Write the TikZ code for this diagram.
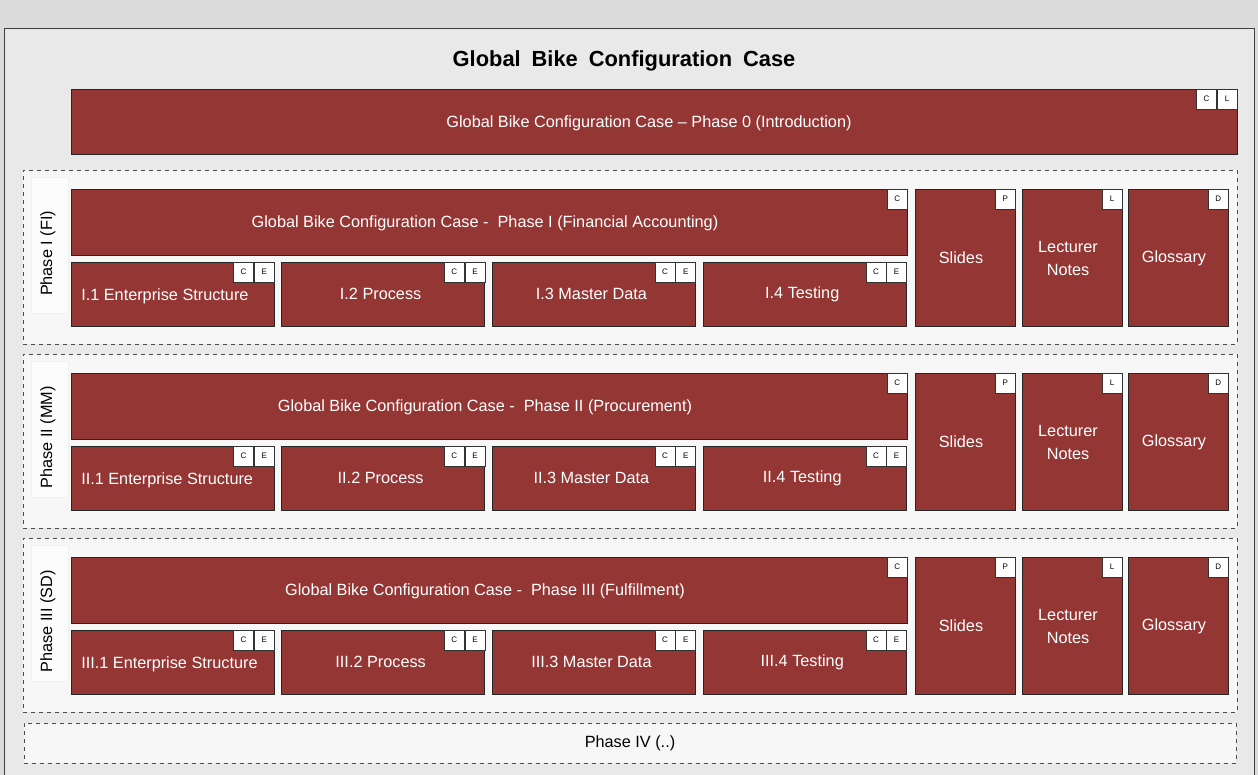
\documentclass[tikz,border=0pt]{standalone}
\usepackage{fontspec}
\setmainfont{Liberation Sans}
\usetikzlibrary{positioning}

\definecolor{boxred}{HTML}{943634}
\definecolor{pagegray}{HTML}{DBDBDB}
\definecolor{framegray}{HTML}{E9E9E9}
\definecolor{phasegray}{HTML}{F7F7F7}

\newcommand{\boxfont}{\fontsize{12.2}{17.2}\selectfont}

\tikzset{
  wh/.style 2 args={minimum width={#1*0.75pt}, minimum height={#2*0.75pt}},
  redbox/.style={draw=black!85, fill=boxred, text=white, line width=0.75pt,
    inner sep=0pt, font=\boxfont, align=center},
  boxtext/.style={text=white, font=\boxfont, inner sep=0pt, align=center},
  badge/.style={draw=black!80, fill=white, line width=0.5pt, inner sep=0pt,
    minimum width=15pt, minimum height=15.5pt, anchor=north east,
    font=\fontsize{6}{6}\selectfont},
  phasebox/.style={draw=black!70, dashed, fill=phasegray, line width=0.6pt, inner sep=0pt},
  phasetag/.style={draw=black!6, fill=white!60!phasegray, line width=0.4pt, inner sep=0pt},
}

\begin{document}
\begin{tikzpicture}[x=0.75pt, y=-0.75pt]
\clip (0,0) rectangle (1258,775);
\fill[pagegray] (0,0) rectangle (1258,775);
\draw[fill=framegray, draw=black!75, line width=0.75pt] (4,28) rectangle (1254,800);

\node[font=\bfseries\fontsize{16.4}{18}\selectfont] (title) at (624,61)
  {\spaceskip=0.5em\relax Global Bike Configuration Case};

% phase 0
\node[redbox, wh={1166}{65}] (intro) at (654,121.5) {};
\node[boxtext] (introtext) at (649,123) {Global Bike Configuration Case -- Phase 0 (Introduction)};
\node[badge] (introL) at (intro.north east) {L};
\node[badge] (introC) at (introL.north west) {C};

% phases I - III
\foreach \k/\rom/\mod/\topic in {0/I/FI/Financial Accounting, 1/II/MM/Procurement, 2/III/SD/Fulfillment}{
  \pgfmathsetmacro\o{184*\k}
  \node[phasebox, wh={1214}{174}] (phase\rom) at (630,{257+\o}) {};
  \node[phasetag, wh={37}{136}] (tag\rom) at (49.5,{245+\o}) {};
  \node[rotate=90, font=\boxfont] (tagtext\rom) at (48,{253.5+\o}) {Phase \rom\ (\mod)};
  \node[redbox, wh={836}{66}] (main\rom) at (489,{222+\o}) {};
  \node[boxtext] (maintext\rom) at (485,{223.5+\o}) {Global Bike Configuration Case -\ \ Phase \rom\ (\topic)};
  \node[badge] (mainC\rom) at (main\rom.north east) {C};
  % sub steps
  \foreach \i in {1,...,4}{
    \pgfmathsetmacro\cx{172.5+210.8*(\i-1)}
    \node[redbox, wh={203}{64}] (sub\rom\i) at (\cx,{294+\o}) {};
    \node[badge] (subE\rom\i) at (sub\rom\i.north east) {E};
    \node[badge] (subC\rom\i) at (subE\rom\i.north west) {C};
  }
  \node[boxtext, anchor=west] (subtext\rom1) at (81,{296+\o}) {\rom.1 Enterprise Structure};
  \node[boxtext] (subtext\rom2) at ([xshift=-2pt]sub\rom2) {\rom.2 Process};
  \node[boxtext] (subtext\rom3) at ([xshift=-2pt]sub\rom3) {\rom.3 Master Data};
  \node[boxtext] (subtext\rom4) at ([xshift=-2pt]sub\rom4) {\rom.4 Testing};
  % material
  \node[redbox, wh={100}{137}] (slides\rom) at (965,{257.5+\o}) {};
  \node[boxtext] (slidestext\rom) at ([xshift=-3pt, yshift=-0.5pt]slides\rom) {Slides};
  \node[badge] (slidesP\rom) at (slides\rom.north east) {P};
  \node[redbox, wh={100}{137}] (notes\rom) at (1072,{257.5+\o}) {};
  \node[boxtext] (notestext\rom) at ([xshift=-3pt, yshift=-0.5pt]notes\rom) {Lecturer\\Notes};
  \node[badge] (notesL\rom) at (notes\rom.north east) {L};
  \node[redbox, wh={100}{137}] (gloss\rom) at (1178,{257.5+\o}) {};
  \node[boxtext] (glosstext\rom) at ([xshift=-3pt, yshift=-0.5pt]gloss\rom) {Glossary};
  \node[badge] (glossD\rom) at (gloss\rom.north east) {D};
}

% phase IV
\node[phasebox, wh={1212}{40}, font=\boxfont] (phaseIV) at (630,743) {Phase IV (..)};
\end{tikzpicture}
\end{document}
